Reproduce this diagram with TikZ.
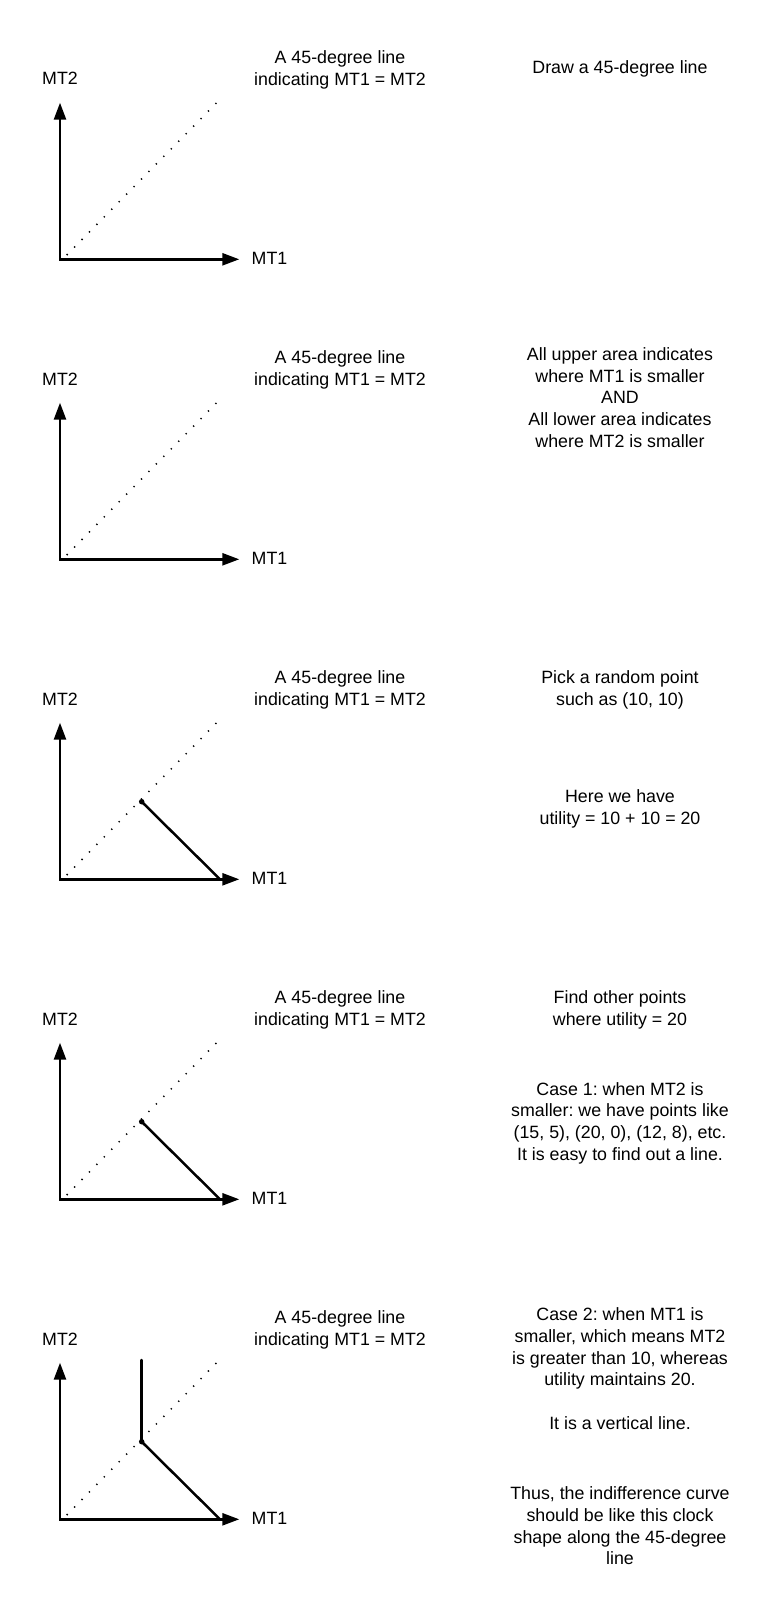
\documentclass[tikz,border=0pt]{standalone}
\usepackage{fontspec}
\setmainfont{Liberation Sans}
\usetikzlibrary{arrows.meta}
\frenchspacing
\tikzset{
  axis/.style={line width=2.5pt, line cap=rect, -{Triangle[length=17pt,width=12pt]}},
  diagdots/.style={line width=1.5pt, dash pattern=on 1.3pt off 9.3pt},
  curveline/.style={line width=2.5pt, line cap=round},
  lbl/.style={font=\fontsize{17.8}{21.7}\selectfont, inner sep=0pt, align=center},
  ptdot/.style={circle, fill=black, inner sep=0pt, minimum size=5.5pt},
}
\newcommand\drawpanel[2]{%
  \begin{scope}[shift={(0,#2)}]
    \coordinate (o#1) at (60,229.3);
    \coordinate (yt#1) at (60,72.7);
    \coordinate (xt#1) at (239.3,229.3);
    \coordinate (ds#1) at (66.7,225);
    \coordinate (de#1) at (220,69.3);
    \draw[diagdots] (ds#1) -- (de#1);
    \draw[axis] (o#1) -- (yt#1);
    \draw[axis] (o#1) -- (xt#1);
    \node[lbl, anchor=base] (mtb#1) at (60,55) {MT2};
    \node[lbl, anchor=base west] (mta#1) at (251.5,234.3) {MT1};
    \node[lbl] (eq#1) at (340,39.8) {A 45-degree line\\indicating MT1 = MT2};
  \end{scope}}
\newcommand\drawcurve[2]{%
  \begin{scope}[shift={(0,#2)}]
    \node[ptdot] (p#1) at (141.7,151.7) {};
    \coordinate (ce#1) at (220,229.3);
    \draw[curveline] (p#1.center) -- (ce#1);
  \end{scope}}
\begin{document}
\begin{tikzpicture}[x=1pt,y=-1pt]
  \useasboundingbox[fill=white] (0,0) rectangle (780,1616);

  % Panel 1
  \drawpanel{A}{30}
  \node[lbl, anchor=base] (t1) at (620,73.3) {Draw a 45-degree line};

  % Panel 2
  \drawpanel{B}{330}
  \node[lbl] (t2) at (620,397.5) {All upper area indicates\\where MT1 is smaller\\AND\\All lower area indicates\\where MT2 is smaller};

  % Panel 3
  \drawpanel{C}{650}
  \drawcurve{C}{650}
  \node[lbl] (t3a) at (620,690) {Pick a random point\\such as (10, 10)};
  \node[lbl] (t3b) at (620,809) {Here we have\\utility = 10 + 10 = 20};

  % Panel 4
  \drawpanel{D}{970}
  \drawcurve{D}{970}
  \node[lbl] (t4a) at (620,1009.7) {Find other points\\where utility = 20};
  \node[lbl] (t4b) at (620,1123) {Case 1: when MT2 is\\smaller: we have points like\\(15, 5), (20, 0), (12, 8), etc.\\It is easy to find out a line.};

  % Panel 5
  \drawpanel{E}{1290}
  \drawcurve{E}{1290}
  \coordinate (vt) at (141.7,1360);
  \draw[curveline] (vt) -- (pE.center);
  \node[lbl] (t5a) at (620,1368.5) {Case 2: when MT1 is\\smaller, which means MT2\\is greater than 10, whereas\\utility maintains 20.\\[21.7pt]It is a vertical line.};
  \node[lbl] (t5b) at (620,1525.8) {Thus, the indifference curve\\should be like this clock\\shape along the 45-degree\\line};
\end{tikzpicture}
\end{document}
